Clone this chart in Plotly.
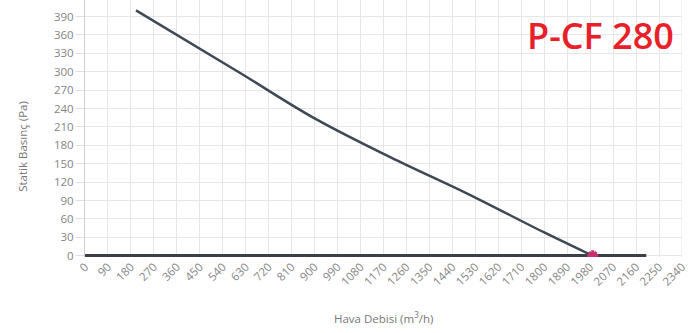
import plotly.graph_objects as go

flow = [200, 600, 900, 1200, 1500, 1800, 1990]
pressure = [400, 300, 224, 160, 101, 38, 0]
base_flow = [0, 2200]
base_pressure = [0, 0]
op_flow = [1990]
op_pressure = [0]
x_ticks = list(range(0, 2341, 90))
y_ticks = list(range(0, 391, 30))

fig = go.Figure()
fig.add_trace(go.Scatter(x=base_flow, y=base_pressure, mode="lines",
                         line=dict(color="#3a3f48", width=3.5), hoverinfo="skip"))
fig.add_trace(go.Scatter(x=flow, y=pressure, mode="lines",
                         line=dict(color="#3d4956", width=2.5, shape="spline", smoothing=1.0)))
fig.add_trace(go.Scatter(x=op_flow, y=op_pressure, mode="markers",
                         marker=dict(symbol="asterisk-open", size=9, color="#c8306a",
                                     line=dict(color="#c8306a", width=3))))

fig.update_layout(
    width=691, height=333,
    margin=dict(l=85, r=9, t=0, b=76),
    paper_bgcolor="white", plot_bgcolor="white",
    showlegend=False,
    font=dict(family="Open Sans, DejaVu Sans, sans-serif", color="#8a8a8a", size=11),
    xaxis=dict(range=[0, 2340], tickvals=x_ticks, ticktext=[str(v) for v in x_ticks],
               tickangle=-45, showgrid=True, gridcolor="#e6e6e6", gridwidth=1,
               zeroline=False, showline=False, ticks="", automargin=False,
               tickfont=dict(size=11.5, color="#858585")),
    yaxis=dict(range=[-2, 417], tickvals=y_ticks, showgrid=True, gridcolor="#e6e6e6",
               gridwidth=1, zeroline=False, showline=True, linecolor="#cfcfcf",
               ticks="outside", ticklen=8, tickcolor="#dddddd", automargin=False,
               tickfont=dict(size=11.5, color="#858585")),
    annotations=[
        dict(text="Statik Basınç (Pa)", xref="paper", yref="paper", x=-0.105, y=0.43,
             textangle=-90, showarrow=False, xanchor="center", yanchor="middle",
             font=dict(size=11.5, color="#777777")),
        dict(text="Hava Debisi (m<sup>3</sup>/h)", xref="paper", yref="paper", x=0.5, y=-0.237,
             showarrow=False, xanchor="center", yanchor="middle",
             font=dict(size=11.5, color="#777777")),
        dict(text="P-CF 280", xref="paper", yref="paper", x=0.99, y=0.965,
             showarrow=False, xanchor="right", yanchor="top",
             font=dict(size=36, color="#e8202a", family="Open Sans, sans-serif", weight=600)),
    ],
)
fig.add_shape(type="line", xref="x", yref="paper", x0=2340, x1=2340, y0=0, y1=1,
              line=dict(color="#e6e6e6", width=1))

fig.write_html("out.html", config={"displayModeBar": False},
               post_script="document.body.style.margin='0';")
